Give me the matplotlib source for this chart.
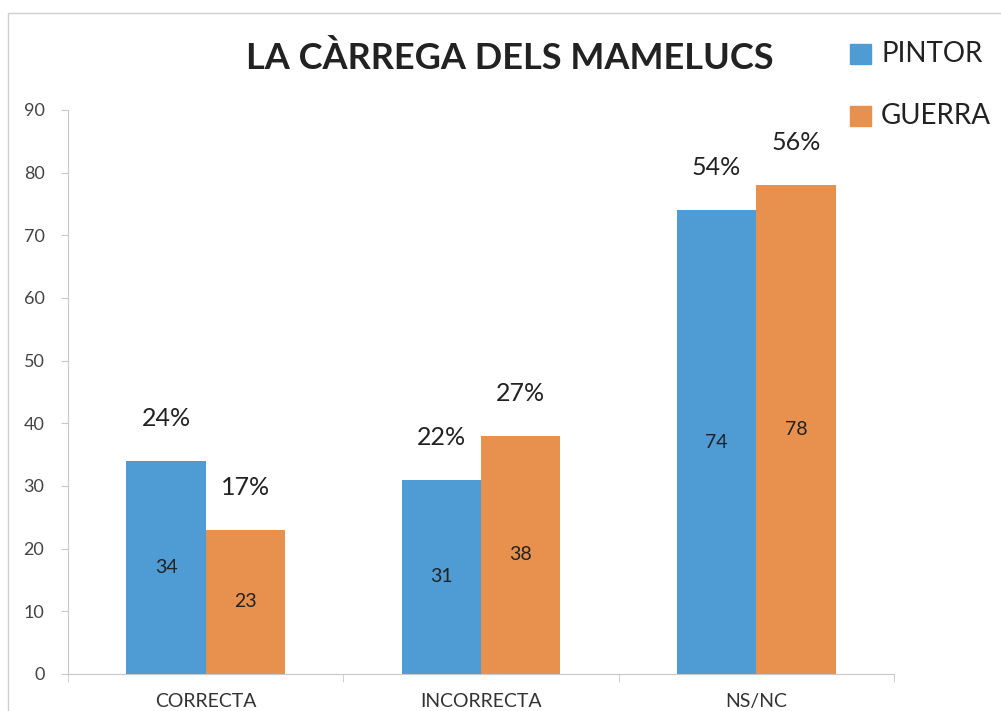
import matplotlib.pyplot as plt
import numpy as np

categories = ['CORRECTA', 'INCORRECTA', 'NS/NC']
pintor = [34, 31, 74]
guerra = [23, 38, 78]
pintor_pct = ['24%', '22%', '54%']
guerra_pct = ['17%', '27%', '56%']

BLUE = '#4f9bd3'
ORANGE = '#e8914f'
AXIS = '#c8c8c8'

plt.rcParams['font.family'] = ['Lato', 'DejaVu Sans']

fig = plt.figure(figsize=(10.01, 7.11), dpi=100)
# axes in pixels: x 68..894, y 110..674 (of 711)
ax = fig.add_axes([68 / 1001, 1 - 674 / 711, (894 - 68) / 1001, (674 - 110) / 711])

x = np.arange(len(categories))
w = 0.288
b1 = ax.bar(x - w / 2, pintor, w, color=BLUE)
b2 = ax.bar(x + w / 2, guerra, w, color=ORANGE)

ax.set_xlim(-0.5, 2.5)
ax.set_ylim(0, 90)
ax.set_yticks(range(0, 91, 10))
ax.set_xticks(x)
ax.set_xticklabels(categories)
ax.set_xticks([-0.5, 0.5, 1.5, 2.5], minor=True)
ax.tick_params(axis='x', which='major', length=0, pad=14, labelsize=14,
               labelcolor='#333333')
ax.tick_params(axis='x', which='minor', length=6, color=AXIS)
ax.tick_params(axis='y', length=5, color=AXIS, labelsize=13,
               labelcolor='#444444', pad=12)

for s in ['top', 'right']:
    ax.spines[s].set_visible(False)
for s in ['left', 'bottom']:
    ax.spines[s].set_color(AXIS)

# values inside the bars
for bars, vals in [(b1, pintor), (b2, guerra)]:
    for r, v in zip(bars, vals):
        ax.text(r.get_x() + r.get_width() / 2, v / 2, str(v),
                ha='center', va='center', fontsize=14, color='#222222')

# percentages above the bars
for bars, vals, pcts in [(b1, pintor, pintor_pct), (b2, guerra, guerra_pct)]:
    for r, v, p in zip(bars, vals, pcts):
        ax.text(r.get_x() + r.get_width() / 2, v + 6.8, p,
                ha='center', va='center', fontsize=18, color='#222222')

fig.text(510 / 1001, 1 - 58 / 711, 'LA CÀRREGA DELS MAMELUCS',
         ha='center', va='center', fontsize=26, fontweight='bold',
         color='#222222')

# legend
for yy, col, lab in [(54, BLUE, 'PINTOR'), (116, ORANGE, 'GUERRA')]:
    fig.patches.append(plt.Rectangle((850 / 1001, 1 - (yy + 10) / 711),
                                     21 / 1001, 20 / 711, color=col,
                                     transform=fig.transFigure))
    fig.text(881 / 1001, 1 - yy / 711, lab, ha='left', va='center',
             fontsize=20, color='#222222')

# outer chart border
fig.patches.append(plt.Rectangle((8 / 1001, -0.1), 1.2, 1.1 - 13 / 711,
                                 fill=False, edgecolor='#d0d0d0', lw=1,
                                 transform=fig.transFigure))

fig.savefig('out.png', dpi=100)
